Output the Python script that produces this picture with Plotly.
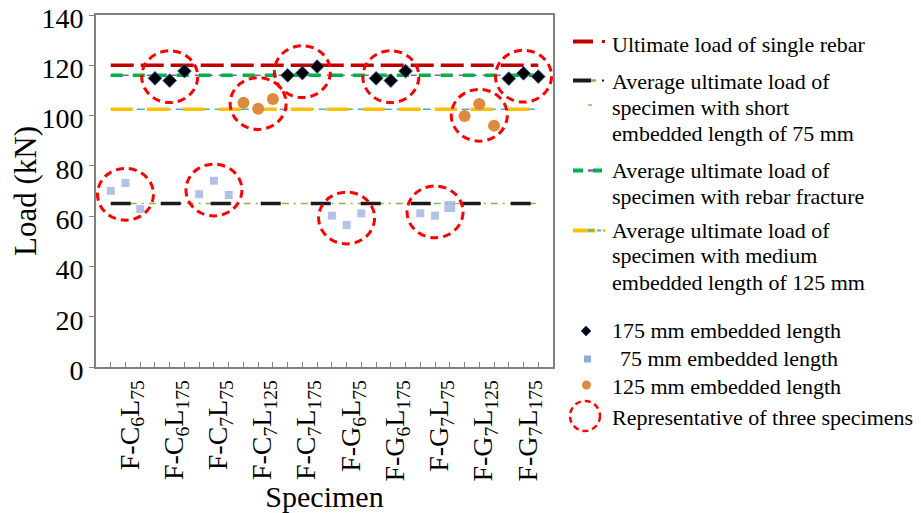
import plotly.graph_objects as go

# ---------------- data ----------------
specimens = ["F-C<sub>6</sub>L<sub>75</sub>", "F-C<sub>6</sub>L<sub>175</sub>",
             "F-C<sub>7</sub>L<sub>75</sub>", "F-C<sub>7</sub>L<sub>125</sub>",
             "F-C<sub>7</sub>L<sub>175</sub>", "F-G<sub>6</sub>L<sub>75</sub>",
             "F-G<sub>6</sub>L<sub>175</sub>", "F-G<sub>7</sub>L<sub>75</sub>",
             "F-G<sub>7</sub>L<sub>125</sub>", "F-G<sub>7</sub>L<sub>175</sub>"]
embedded_length = [75, 175, 75, 125, 175, 75, 175, 75, 125, 175]
loads = [
    [70.1, 73.2, 62.8],
    [114.8, 113.9, 117.7],
    [68.7, 74.1, 68.4],
    [105.1, 102.7, 106.6],
    [116.0, 116.9, 119.5],
    [60.2, 56.5, 61.1],
    [114.8, 113.9, 117.7],
    [61.1, 60.2, 63.8],
    [99.8, 104.6, 96.0],
    [114.7, 116.8, 115.5],
]
ult_single_rebar = 120.0
avg_short_75 = 65.0
avg_rebar_fracture = 116.0
avg_medium_125 = 102.5
y_ticks = [0, 20, 40, 60, 80, 100, 120, 140]

FONT = "Liberation Serif"

# sample positions: 3 specimens per group on the x axis
n_groups = len(specimens)
xpos = [[3 * g + j + 1 for j in range(3)] for g in range(n_groups)]
x_first, x_last = xpos[0][0], xpos[-1][-1]
centers = [sum(p) / 3 for p in xpos]

fig = go.Figure()

def ref_line(y, under_color, under_w, under_dash, top_color, top_w, top_dash):
    fig.add_trace(go.Scatter(x=[x_first, x_last], y=[y, y], mode="lines",
                             line=dict(color=under_color, width=under_w, dash=under_dash),
                             showlegend=False, hoverinfo="skip"))
    fig.add_trace(go.Scatter(x=[x_first, x_last], y=[y, y], mode="lines",
                             line=dict(color=top_color, width=top_w, dash=top_dash),
                             showlegend=False))

ref_line(ult_single_rebar, "rgba(0,0,0,0)", 1, "solid", "#C00000", 3.5, "23px,7px")
ref_line(avg_short_75, "#8DB44C", 1.5, "7px,5px,2px,5px", "#1A1A1A", 3.5, "20px,30px")
ref_line(avg_rebar_fracture, "#8064A2", 1.5, "6px,6px", "#00B050", 3.5, "12px,10px")
ref_line(avg_medium_125, "#4BACC6", 1.5, "8px,5px", "#FFC000", 3.5, "22px,14px")

# markers by embedded length
def pts(length):
    xs, ys = [], []
    for g in range(n_groups):
        if embedded_length[g] == length:
            xs += xpos[g]
            ys += loads[g]
    return xs, ys

x175, y175 = pts(175)
x75, y75 = pts(75)
x125, y125 = pts(125)

sq_size = [9] * len(x75)
sq_size[-1] = 12

fig.add_trace(go.Scatter(x=x75, y=y75, mode="markers", name="75 mm embedded length",
                         marker=dict(symbol="square", size=sq_size, color="#8FAADC"),
                         showlegend=False))
fig.add_trace(go.Scatter(x=x125, y=y125, mode="markers", name="125 mm embedded length",
                         marker=dict(symbol="circle", size=12, color="#DE8A3E"),
                         showlegend=False))
fig.add_trace(go.Scatter(x=x175, y=y175, mode="markers", name="175 mm embedded length",
                         marker=dict(symbol="diamond", size=10.5, color="black",
                                     line=dict(color="#2F5597", width=1)),
                         showlegend=False))

# dashed circles around each group of three specimens
shapes = []
for g in range(n_groups):
    cx = centers[g]
    cy = sum(loads[g]) / 3
    shapes.append(dict(type="circle", xref="x", yref="y",
                       x0=cx - 1.9, x1=cx + 1.9, y0=cy - 10.3, y1=cy + 10.3,
                       line=dict(color="#FF0000", width=3, dash="8px,5px"), layer="above"))

# ---------------- layout geometry (page pixels; page has an 8px body margin) ----------------
OFF = 8
L, R, T, B = 96, 553, 15, 367
FW, FH = 921 - OFF, 513 - OFF
W, H = R - L, B - T
def px(v): return (v - L) / W
def py(v): return (B - v) / H

def seg(x0, x1, y, color, w):
    shapes.append(dict(type="line", xref="paper", yref="paper",
                       x0=px(x0), x1=px(x1), y0=py(y), y1=py(y),
                       line=dict(color=color, width=w)))

seg(573, 593, 41.5, "#C00000", 4); seg(602, 605, 41.5, "#C00000", 3)
seg(573, 591, 80.5, "#1A1A1A", 4); seg(591, 596, 80.5, "#8DB44C", 2.5); seg(602, 604, 80.5, "#1A1A1A", 2)
seg(588, 592, 105, "#8DB44C", 1.5)
seg(573, 583, 170.5, "#00B050", 4); seg(588, 593, 170.5, "#8064A2", 2.5); seg(593, 602, 170.5, "#00B050", 4)
seg(573, 595, 230.5, "#FFC000", 4); seg(588, 594, 230.5, "#4BACC6", 2); seg(597, 601, 230.5, "#4BACC6", 2)
seg(603, 605, 230.5, "#FFC000", 3)

# diamond
dx, dy, r = 586, 331, 5
shapes.append(dict(type="path", xref="paper", yref="paper",
                   path=f"M {px(dx-r)} {py(dy)} L {px(dx)} {py(dy-r)} L {px(dx+r)} {py(dy)} L {px(dx)} {py(dy+r)} Z",
                   fillcolor="black", line=dict(color="#2F5597", width=1)))
# square
sx, sy, s = 587.5, 359, 3.5
shapes.append(dict(type="rect", xref="paper", yref="paper",
                   x0=px(sx - s), x1=px(sx + s), y0=py(sy + s), y1=py(sy - s),
                   fillcolor="#8FAADC", line=dict(width=0)))
# circle
cx_, cy_, cr = 586.5, 385, 4.5
shapes.append(dict(type="circle", xref="paper", yref="paper",
                   x0=px(cx_ - cr), x1=px(cx_ + cr), y0=py(cy_ + cr), y1=py(cy_ - cr),
                   fillcolor="#DE8A3E", line=dict(width=0)))
# dashed circle
ox, oy, orr = 585, 416, 15
shapes.append(dict(type="circle", xref="paper", yref="paper",
                   x0=px(ox - orr), x1=px(ox + orr), y0=py(oy + orr), y1=py(oy - orr),
                   line=dict(color="#FF0000", width=2.5, dash="6px,4px")))

legend_text = [
    (610, 45, "Ultimate load of single rebar"),
    (610, 82, "Average ultimate load of"),
    (610, 108, "specimen with short"),
    (610, 134, "embedded length of 75 mm"),
    (610, 170, "Average ultimate load of"),
    (610, 196, "specimen with rebar fracture"),
    (610, 230, "Average ultimate load of"),
    (610, 256, "specimen with medium"),
    (610, 282, "embedded length of 125 mm"),
    (610, 330, "175 mm embedded length"),
    (618, 358, "75 mm embedded length"),
    (610, 386, "125 mm embedded length"),
    (610, 417, "Representative of three specimens"),
]
annotations = [dict(x=px(a), y=py(b), xref="paper", yref="paper", text=t,
                    showarrow=False, xanchor="left", yanchor="middle",
                    font=dict(family=FONT, size=22, color="black"))
               for a, b, t in legend_text]

fig.update_layout(
    template="none",
    width=FW, height=FH,
    margin=dict(l=L - OFF, r=FW - (R - OFF), t=T - OFF, b=FH - (B - OFF), autoexpand=False),
    paper_bgcolor="white", plot_bgcolor="white",
    font=dict(family=FONT, color="black"),
    shapes=shapes, annotations=annotations,
    showlegend=False,
    xaxis=dict(range=[0, 31], tickvals=centers, ticktext=specimens, tickangle=-90,
               automargin=False, ticklabelshift=4,
               ticks="inside", ticklen=5, tickcolor="#808080", tickwidth=1,
               minor=dict(ticks="inside", tick0=0, dtick=1, ticklen=5,
                          tickcolor="#808080", tickwidth=1, showgrid=False),
               showline=True, linecolor="#808080", linewidth=2, mirror=True,
               showgrid=False, zeroline=False,
               tickfont=dict(family=FONT, size=28, color="black"),
               title=dict(text="Specimen", font=dict(family=FONT, size=30, color="black"), standoff=0)),
    yaxis=dict(range=[0, 140], tickvals=y_ticks, ticklabeloverflow="allow",
               automargin=False, ticklabelshift=3,
               ticks="outside", ticklen=5, tickcolor="#808080", tickwidth=1,
               showline=True, linecolor="#808080", linewidth=2, mirror=True,
               showgrid=False, zeroline=False,
               tickfont=dict(family=FONT, size=28, color="black"),
               title=dict(text="Load (kN)", font=dict(family=FONT, size=31, color="black"), standoff=12)),
)

fig.write_html("out.html")
